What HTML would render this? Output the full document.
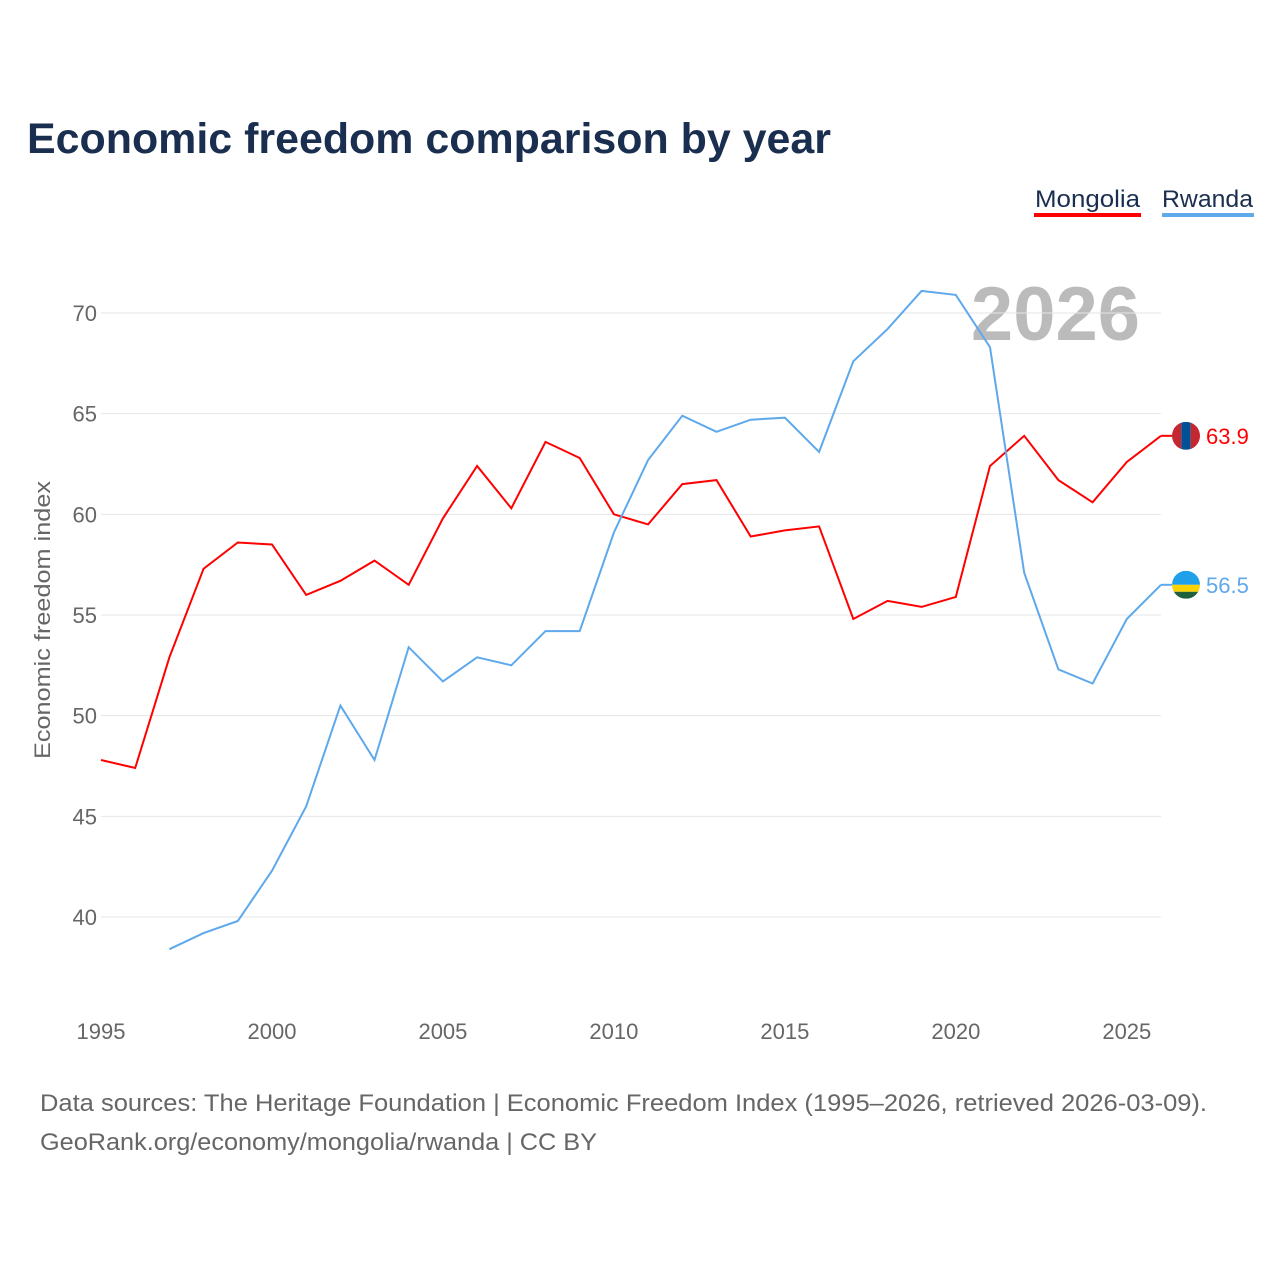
<!DOCTYPE html>
<html><head><meta charset="utf-8"><style>
body{margin:0;background:#fff;font-family:"Liberation Sans",sans-serif}
</style></head><body>
<svg id="chart" width="1280" height="1280" xmlns="http://www.w3.org/2000/svg">
<text x="27" y="153" font-size="43" font-weight="bold" fill="#1a2e4f" textLength="804" lengthAdjust="spacingAndGlyphs">Economic freedom comparison by year</text>
<g><text x="1035" y="207" font-size="24" fill="#1a2e4f" textLength="105" lengthAdjust="spacingAndGlyphs">Mongolia</text><rect x="1034" y="213" width="107" height="4" fill="#ff0000"/></g>
<g><text x="1162" y="207" font-size="24" fill="#1a2e4f" textLength="91" lengthAdjust="spacingAndGlyphs">Rwanda</text><rect x="1162" y="213" width="92" height="4" fill="#5ea8ec"/></g>
<text x="1140" y="340" text-anchor="end" font-size="76" font-weight="bold" fill="#bbbbbb">2026</text>
<text transform="translate(50,620) rotate(-90)" text-anchor="middle" font-size="22" fill="#666" textLength="278" lengthAdjust="spacingAndGlyphs">Economic freedom index</text>
<g id="grid"></g><g id="xt"></g><g id="lines"></g>
<text x="40" y="1111" font-size="24" fill="#666" textLength="1167" lengthAdjust="spacingAndGlyphs">Data sources: The Heritage Foundation | Economic Freedom Index (1995–2026, retrieved 2026-03-09).</text>
<text x="40" y="1150" font-size="24" fill="#666" textLength="557" lengthAdjust="spacingAndGlyphs">GeoRank.org/economy/mongolia/rwanda | CC BY</text>
</svg>
<script>
const years=[1995,1996,1997,1998,1999,2000,2001,2002,2003,2004,2005,2006,2007,2008,2009,2010,2011,2012,2013,2014,2015,2016,2017,2018,2019,2020,2021,2022,2023,2024,2025,2026];
const mongolia=[47.8,47.4,52.9,57.3,58.6,58.5,56.0,56.7,57.7,56.5,59.8,62.4,60.3,63.6,62.8,60.0,59.5,61.5,61.7,58.9,59.2,59.4,54.8,55.7,55.4,55.9,62.4,63.9,61.7,60.6,62.6,63.9];
const rwanda=[null,null,38.4,39.2,39.8,42.3,45.5,50.5,47.8,53.4,51.7,52.9,52.5,54.2,54.2,59.1,62.7,64.9,64.1,64.7,64.8,63.1,67.6,69.2,71.1,70.9,68.3,57.1,52.3,51.6,54.8,56.5];
const yTicks=[40,45,50,55,60,65,70];
const xTicks=[1995,2000,2005,2010,2015,2020,2025];
const NS="http://www.w3.org/2000/svg";
const X=y=>101+(y-1995)*(1060/31);
const Y=v=>313+(70-v)*(604/30);
function mk(t,a,p){const e=document.createElementNS(NS,t);for(const k in a)e.setAttribute(k,a[k]);p.appendChild(e);return e;}
const grid=document.getElementById('grid');
yTicks.forEach(v=>{
 const l=mk('line',{x1:101,x2:1161,y1:Y(v),y2:Y(v),stroke:'#e6e6e6','stroke-width':1},grid);
 
 
 const t=mk('text',{x:97,y:Y(v)+8,'text-anchor':'end','font-size':22,fill:'#666'},grid);
 t.textContent=v;
 
 
});
const xt=document.getElementById('xt');
xTicks.forEach(v=>{
 const t=mk('text',{x:X(v),y:1039,'text-anchor':'middle','font-size':22,fill:'#666'},xt);
 t.textContent=v;
 
 
});
const lines=document.getElementById('lines');
const defs=mk('defs',{},lines);
function draw(vals,color,name,stripes,vertical){
 let d='';vals.forEach((v,i)=>{if(v==null)return;d+=(d?'L':'M')+X(years[i]).toFixed(1)+','+Y(v).toFixed(1);});
 const p=mk('path',{d:d,fill:'none',stroke:color,'stroke-width':2},lines);
 
 
 const last=vals[vals.length-1];
 const cy=Y(last);
 const l=mk('line',{x1:1161,x2:1172,y1:cy,y2:cy,stroke:color,'stroke-width':2},lines);
 
 
 const cp=mk('clipPath',{id:'cp-'+name},defs);
 mk('circle',{cx:1186,cy:cy,r:14},cp);
 const g=mk('g',{'clip-path':'url(#cp-'+name+')'},lines);
 
 
 let off=0;
 stripes.forEach(s=>{
  if(vertical) mk('rect',{x:1172+off,y:cy-14,width:s[1],height:28,fill:s[0]},g);
  else mk('rect',{x:1172,y:cy-14+off,width:28,height:s[1],fill:s[0]},g);
  off+=s[1];
 });
 const t=mk('text',{x:1206,y:cy+8,'font-size':22,fill:color},lines);
 t.textContent=last.toFixed(1);
 
 
}
draw(mongolia,'#ff0000','mongolia',[['#c4272f',9.33],['#015197',9.34],['#c4272f',9.33]],true);
draw(rwanda,'#5ea8ec','rwanda',[['#20a0e8',14],['#fad201',7],['#20603d',7]],false);
</script>
</body></html>
